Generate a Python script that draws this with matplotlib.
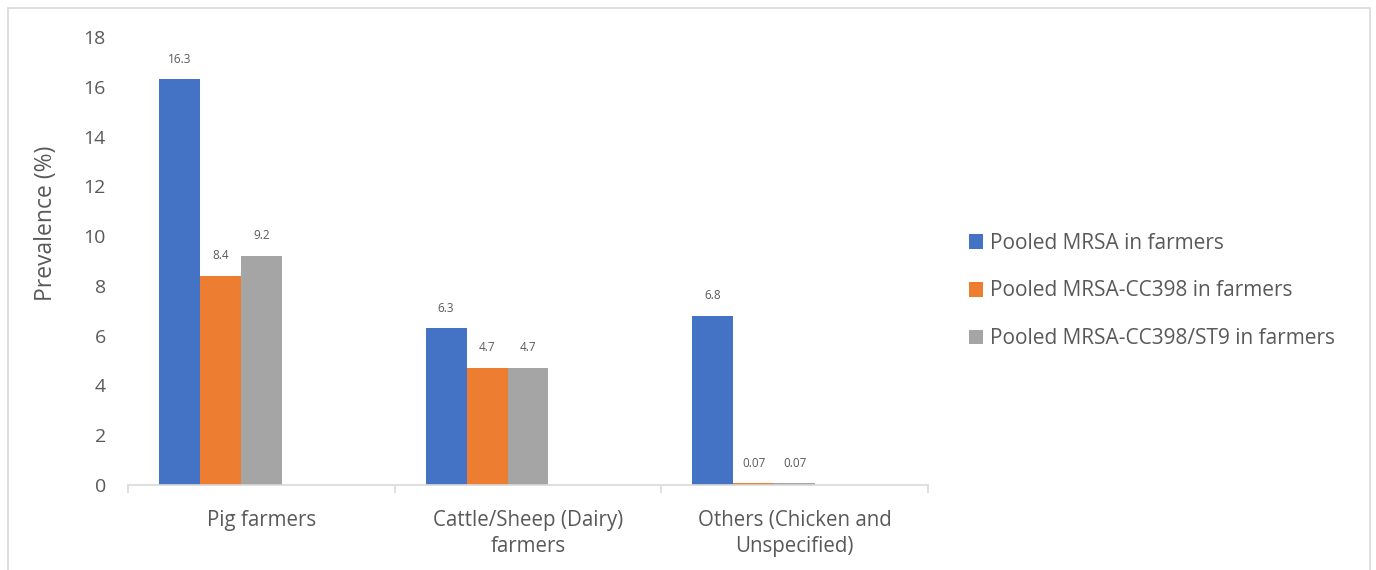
import matplotlib
matplotlib.use("Agg")
import matplotlib.pyplot as plt
from matplotlib.patches import Rectangle
import numpy as np

categories = ["Pig farmers", "Cattle/Sheep (Dairy)\nfarmers", "Others (Chicken and\nUnspecified)"]
series_names = ["Pooled MRSA in farmers",
                "Pooled MRSA-CC398 in farmers",
                "Pooled MRSA-CC398/ST9 in farmers"]
mrsa = [16.3, 6.3, 6.8]
cc398 = [8.4, 4.7, 0.07]
cc398_st9 = [9.2, 4.7, 0.07]
yticks = [0, 2, 4, 6, 8, 10, 12, 14, 16, 18]

colors = ["#4472C4", "#ED7D31", "#A5A5A5"]
text_color = "#595959"
font = "Open Sans"

fig = plt.figure(figsize=(13.76, 5.70), dpi=100)
fig.patches.append(Rectangle((8 / 1376, -0.05), (1370 - 8) / 1376, 1.05 - 8 / 570,
                             transform=fig.transFigure, fill=False,
                             edgecolor="#D9D9D9", linewidth=1.2))

ax = fig.add_axes([128 / 1376, 1 - 485 / 570, (928 - 128) / 1376, (485 - 37) / 570])

x = np.arange(len(categories))
w = 41 / 266.7
values = [mrsa, cc398, cc398_st9]
for i, (vals, col, name) in enumerate(zip(values, colors, series_names)):
    pos = x + (i - 2) * w
    ax.bar(pos, vals, width=w, color=col, label=name, edgecolor="none")
    for p, v in zip(pos, vals):
        ax.annotate(f"{v:g}", (p, v), xytext=(0, 14.5), textcoords="offset points",
                    ha="center", va="center", fontsize=8.5, color=text_color,
                    family=font)

ax.set_xlim(-0.5, 2.5)
ax.set_ylim(0, 18)
ax.set_yticks(yticks)
ax.set_yticklabels([str(t) for t in yticks], fontsize=14, color=text_color, family=font)
ax.tick_params(axis="y", length=0, pad=16)

ax.set_xticks(x)
ax.set_xticklabels(categories, fontsize=14.8, color=text_color, family=font,
                   linespacing=1.3)
ax.tick_params(axis="x", which="major", length=0, pad=18)
ax.set_xticks([-0.5, 0.5, 1.5, 2.5], minor=True)
ax.tick_params(axis="x", which="minor", length=6, color="#D9D9D9", width=1.2)

for s in ["top", "right", "left"]:
    ax.spines[s].set_visible(False)
ax.spines["bottom"].set_color("#D9D9D9")
ax.spines["bottom"].set_linewidth(1.2)

fig.text(46 / 1376, 1 - 223 / 570, "Prevalence (%)", rotation=90, ha="center",
         va="center", fontsize=16.5, color=text_color, family=font)

leg = fig.legend(loc="center left", bbox_to_anchor=(950 / 1376, 1 - 291 / 570),
                 frameon=False, handlelength=0.7, handleheight=0.7,
                 handletextpad=0.3, labelspacing=1.28,
                 prop={"family": font, "size": 15})
for t in leg.get_texts():
    t.set_color(text_color)

fig.savefig("out.png", dpi=100)
